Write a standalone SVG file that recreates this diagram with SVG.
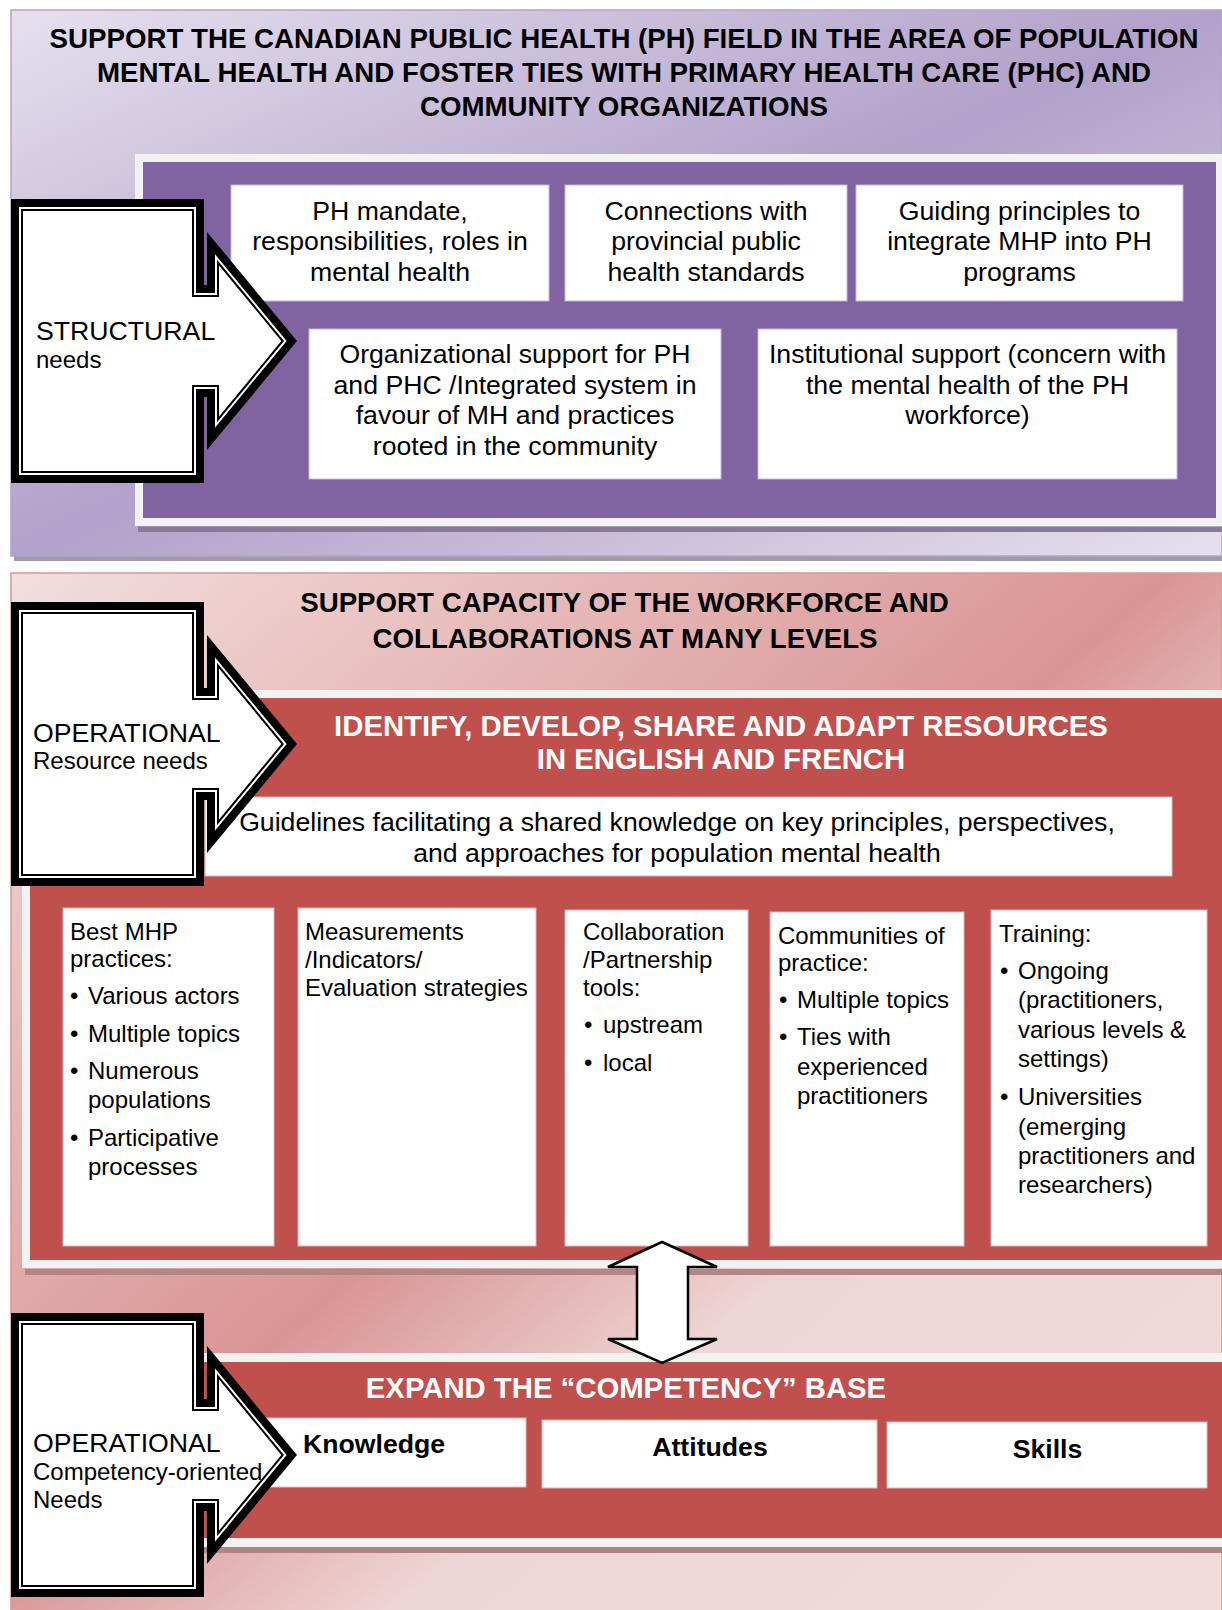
<svg xmlns="http://www.w3.org/2000/svg" width="1222" height="1610" viewBox="0 0 1222 1610">
<defs>
<linearGradient id="gPurple" x1="0" y1="0" x2="1" y2="1">
<stop offset="0" stop-color="#e6e0ee"/>
<stop offset="0.5" stop-color="#b2a1ca"/>
<stop offset="1" stop-color="#e6e0ee"/>
</linearGradient>
<linearGradient id="gRed" x1="0" y1="0" x2="1" y2="1">
<stop offset="0" stop-color="#f3dede"/>
<stop offset="0.48" stop-color="#d99594"/>
<stop offset="0.66" stop-color="#efd6d6"/>
<stop offset="1" stop-color="#f1dbdb"/>
</linearGradient>
<style>
text{font-family:"Liberation Sans",Arial,sans-serif;fill:#000}
.t{font-size:27.7px;font-weight:bold;text-anchor:middle}
.tw{font-size:29.3px;font-weight:bold;text-anchor:middle;fill:#fff}
.b{font-size:26.67px;text-anchor:middle}
.s{font-size:24px}
.kb{font-size:26.67px;font-weight:bold}
.big{font-size:26.67px}
.box{fill:#fff;stroke:#c4b8d6;stroke-width:1}
.rbox{fill:#fff;stroke:#e3b4b3;stroke-width:1}
.frame{fill:#f2f2f2}
.arr-o{fill:#fff;stroke:#000;stroke-width:8;stroke-linejoin:miter}
.arr-i{fill:none;stroke:#000;stroke-width:2;stroke-linejoin:miter}
</style>
</defs>

<!-- Top structural panel -->
<g id="panel-structural">
<rect x="14" y="556" width="1208" height="5" fill="#a09aa9"/>
<rect x="11" y="10" width="1211" height="546" fill="url(#gPurple)" stroke="#b3a4c9" stroke-width="1.5"/>
<text class="t" x="624" y="48">SUPPORT THE CANADIAN PUBLIC HEALTH (PH) FIELD IN THE AREA OF POPULATION</text>
<text class="t" x="624" y="82">MENTAL HEALTH AND FOSTER TIES WITH PRIMARY HEALTH CARE (PHC) AND</text>
<text class="t" x="624" y="115.5">COMMUNITY ORGANIZATIONS</text>
<rect x="138" y="526.5" width="1084" height="5.5" fill="#877998"/>
<rect class="frame" x="135" y="154" width="1087" height="372"/>
<rect x="143" y="162" width="1073" height="356" fill="#8064a2"/>
</g>

<g id="box-mandate">
<rect class="box" x="231" y="185" width="318" height="116"/>
<text class="b" x="390" y="219.5">PH mandate,</text>
<text class="b" x="390" y="250">responsibilities, roles in</text>
<text class="b" x="390" y="280.5">mental health</text>
</g>
<g id="box-connections">
<rect class="box" x="565" y="185" width="282" height="116"/>
<text class="b" x="706" y="219.5">Connections with</text>
<text class="b" x="706" y="250">provincial public</text>
<text class="b" x="706" y="280.5">health standards</text>
</g>
<g id="box-guiding">
<rect class="box" x="856" y="185" width="327" height="116"/>
<text class="b" x="1019.5" y="219.5">Guiding principles to</text>
<text class="b" x="1019.5" y="250">integrate MHP into PH</text>
<text class="b" x="1019.5" y="280.5">programs</text>
</g>
<g id="box-organizational">
<rect class="box" x="309" y="329" width="412" height="150"/>
<text class="b" x="515" y="363">Organizational support for PH</text>
<text class="b" x="515" y="393.6">and PHC /Integrated system in</text>
<text class="b" x="515" y="424.2">favour of MH and practices</text>
<text class="b" x="515" y="454.8">rooted in the community</text>
</g>
<g id="box-institutional">
<rect class="box" x="758" y="329" width="419" height="150"/>
<text class="b" x="967.5" y="363">Institutional support (concern with</text>
<text class="b" x="967.5" y="393.6">the mental health of the PH</text>
<text class="b" x="967.5" y="424.2">workforce)</text>
</g>

<!-- Operational panel -->
<g id="panel-operational">
<rect x="11" y="573" width="1211" height="1040" fill="url(#gRed)" stroke="#d99694" stroke-width="1.5"/>
<text class="t" x="624.5" y="612">SUPPORT CAPACITY OF THE WORKFORCE AND</text>
<text class="t" x="625" y="648">COLLABORATIONS AT MANY LEVELS</text>
</g>

<g id="panel-resources">
<rect x="25" y="1269" width="1197" height="6" fill="#b38686"/>
<rect class="frame" x="22" y="690" width="1200" height="578"/>
<rect x="30" y="698" width="1192" height="562" fill="#c0504d"/>
<text class="tw" x="721" y="736">IDENTIFY, DEVELOP, SHARE AND ADAPT RESOURCES</text>
<text class="tw" x="721" y="769">IN ENGLISH AND FRENCH</text>
</g>

<g id="box-guidelines">
<rect class="rbox" x="205" y="797" width="967" height="79"/>
<text class="b" x="677" y="831">Guidelines facilitating a shared knowledge on key principles, perspectives,</text>
<text class="b" x="677" y="861.6">and approaches for population mental health</text>
</g>

<g id="box-best">
<rect class="rbox" x="63" y="908" width="211" height="338"/>
<text class="s" x="70" y="940">Best MHP</text>
<text class="s" x="70" y="967">practices:</text>
<text class="s" x="70" y="1004">•</text><text class="s" x="88" y="1004">Various actors</text>
<text class="s" x="70" y="1042">•</text><text class="s" x="88" y="1042">Multiple topics</text>
<text class="s" x="70" y="1079">•</text><text class="s" x="88" y="1079">Numerous</text>
<text class="s" x="88" y="1108">populations</text>
<text class="s" x="70" y="1146">•</text><text class="s" x="88" y="1146">Participative</text>
<text class="s" x="88" y="1175">processes</text>
</g>
<g id="box-measurements">
<rect class="rbox" x="298" y="908" width="238" height="338"/>
<text class="s" x="305" y="940">Measurements</text>
<text class="s" x="305" y="968">/Indicators/</text>
<text class="s" x="305" y="996">Evaluation strategies</text>
</g>
<g id="box-collaboration">
<rect class="rbox" x="565" y="910" width="183" height="336"/>
<text class="s" x="583" y="940">Collaboration</text>
<text class="s" x="583" y="968">/Partnership</text>
<text class="s" x="583" y="996">tools:</text>
<text class="s" x="584" y="1033">•</text><text class="s" x="603" y="1033">upstream</text>
<text class="s" x="584" y="1071">•</text><text class="s" x="603" y="1071">local</text>
</g>
<g id="box-communities">
<rect class="rbox" x="770" y="912" width="194" height="334"/>
<text class="s" x="778" y="944">Communities of</text>
<text class="s" x="778" y="971">practice:</text>
<text class="s" x="779" y="1008">•</text><text class="s" x="797" y="1008">Multiple topics</text>
<text class="s" x="779" y="1045">•</text><text class="s" x="797" y="1045">Ties with</text>
<text class="s" x="797" y="1075">experienced</text>
<text class="s" x="797" y="1104">practitioners</text>
</g>
<g id="box-training">
<rect class="rbox" x="991" y="910" width="216" height="336"/>
<text class="s" x="999" y="942">Training:</text>
<text class="s" x="1000" y="979">•</text><text class="s" x="1018" y="979">Ongoing</text>
<text class="s" x="1018" y="1008">(practitioners,</text>
<text class="s" x="1018" y="1038">various levels &amp;</text>
<text class="s" x="1018" y="1067">settings)</text>
<text class="s" x="1000" y="1105">•</text><text class="s" x="1018" y="1105">Universities</text>
<text class="s" x="1018" y="1135">(emerging</text>
<text class="s" x="1018" y="1164">practitioners and</text>
<text class="s" x="1018" y="1193">researchers)</text>
</g>

<g id="panel-competency">
<rect x="183" y="1547" width="1039" height="6" fill="#ad8585"/>
<rect class="frame" x="180" y="1353" width="1042" height="194"/>
<rect x="188" y="1362" width="1034" height="176" fill="#c0504d"/>
<text class="tw" x="626" y="1398">EXPAND THE “COMPETENCY” BASE</text>
</g>
<g id="box-knowledge">
<rect class="rbox" x="205" y="1418" width="321" height="69"/>
<text class="kb" x="303" y="1453">Knowledge</text>
</g>
<g id="box-attitudes">
<rect class="rbox" x="542" y="1420" width="335" height="68"/>
<text class="kb" x="710" y="1456" text-anchor="middle">Attitudes</text>
</g>
<g id="box-skills">
<rect class="rbox" x="887" y="1422" width="320" height="66"/>
<text class="kb" x="1047.5" y="1458" text-anchor="middle">Skills</text>
</g>

<g id="connectors">
<path d="M662,1242 L717,1267 H688 V1339 H717 L662,1363 L608,1339 H637 V1267 H608 Z" fill="#fff" stroke="#000" stroke-width="2.5" stroke-linejoin="miter"/>
</g>

<g id="arrow-structural" transform="translate(0,199)">
<path class="arr-o" d="M15,4 H200 V90 H211 V44.1 L291.8,142 L211,239.9 V194 H200 V280 H15 Z"/>
<path class="arr-i" d="M22,11 H193 V97 H218 V63.6 L282.7,142 L218,220.4 V187 H193 V273 H22 Z"/>
<text class="big" x="36" y="141">STRUCTURAL</text>
<text class="s" x="36" y="169">needs</text>
</g>
<g id="arrow-resource" transform="translate(0,602)">
<path class="arr-o" d="M15,4 H200 V90 H211 V44.1 L291.8,142 L211,239.9 V194 H200 V280 H15 Z"/>
<path class="arr-i" d="M22,11 H193 V97 H218 V63.6 L282.7,142 L218,220.4 V187 H193 V273 H22 Z"/>
<text class="big" x="33" y="140">OPERATIONAL</text>
<text class="s" x="33" y="167">Resource needs</text>
</g>
<g id="arrow-competency" transform="translate(0,1313)">
<path class="arr-o" d="M15,4 H200 V90 H211 V44.1 L291.8,142 L211,239.9 V194 H200 V280 H15 Z"/>
<path class="arr-i" d="M22,11 H193 V97 H218 V63.6 L282.7,142 L218,220.4 V187 H193 V273 H22 Z"/>
<text class="big" x="33" y="139">OPERATIONAL</text>
<text class="s" x="33" y="167">Competency-oriented</text>
<text class="s" x="33" y="195">Needs</text>
</g>
</svg>
